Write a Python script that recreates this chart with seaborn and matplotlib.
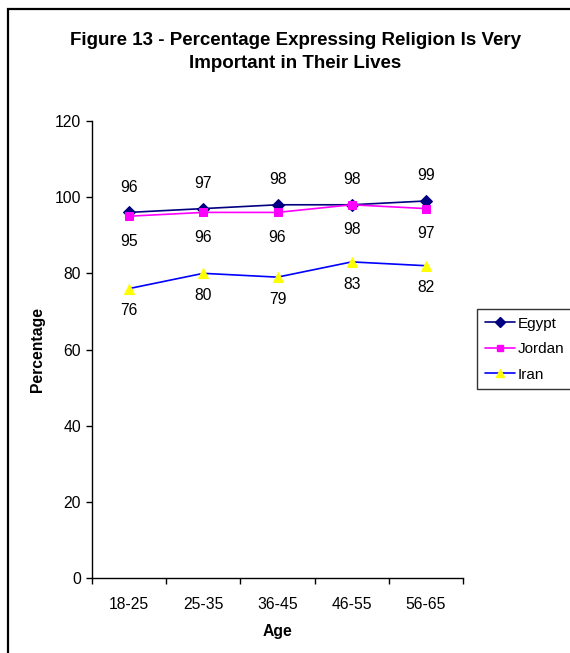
import matplotlib
matplotlib.use("Agg")
import matplotlib.pyplot as plt
from matplotlib.patches import Rectangle
from matplotlib.lines import Line2D
from matplotlib.ticker import FixedLocator
import seaborn as sns
import pandas as pd

ages = ["18-25", "25-35", "36-45", "46-55", "56-65"]
egypt = [96, 97, 98, 98, 99]
jordan = [95, 96, 96, 98, 97]
iran = [76, 80, 79, 83, 82]
y_ticks = [0, 20, 40, 60, 80, 100, 120]

sns.set_theme(style="white")
plt.rcParams["font.family"] = ["Liberation Sans", "DejaVu Sans"]
plt.rcParams.update({"text.color": "black", "axes.labelcolor": "black",
                     "xtick.color": "black", "ytick.color": "black"})

W, H = 570, 653
FS = 11.3
fig = plt.figure(figsize=(W / 100, H / 100), dpi=100)
ax = fig.add_axes([92 / W, 1 - 578 / H, 371 / W, 457 / H])

series = [
    ("Egypt", egypt, "#000080", "D", "#000080", 6, 18),
    ("Jordan", jordan, "#FF00FF", "s", "#FF00FF", 6, -18),
    ("Iran", iran, "#0000FF", "^", "#FFFF00", 7, -16),
]

handles = []
for name, vals, lc, mk, mfc, ms, off in series:
    df = pd.DataFrame({"Age": ages, "Percentage": vals})
    sns.lineplot(data=df, x="Age", y="Percentage", ax=ax, color=lc, lw=1.2,
                 marker=mk, markersize=ms, markerfacecolor=mfc,
                 markeredgecolor=mfc, sort=False)
    for i, v in enumerate(vals):
        ax.annotate(str(v), (i, v), xytext=(0, off), textcoords="offset points",
                    ha="center", va="center", fontsize=FS, color="black")
    handles.append(Line2D([], [], color=lc, lw=1.2, marker=mk, markersize=ms - 1,
                          markerfacecolor=mfc, markeredgecolor=mfc))

ax.set_xlim(-0.5, 4.5)
ax.set_ylim(0, 120)
ax.set_yticks(y_ticks)
ax.set_xticks(range(len(ages)))
ax.set_xticklabels(ages)
ax.xaxis.set_minor_locator(FixedLocator([i - 0.5 for i in range(len(ages) + 1)]))
ax.tick_params(axis="x", which="major", length=0, pad=14, labelsize=FS)
ax.tick_params(axis="x", which="minor", length=4, width=1, direction="out", bottom=True)
ax.tick_params(axis="y", which="major", length=4, width=1, direction="out", left=True,
               labelsize=FS, pad=4)

for s in ["top", "right"]:
    ax.spines[s].set_visible(False)
for s in ["left", "bottom"]:
    ax.spines[s].set_color("black")
    ax.spines[s].set_linewidth(1)

ax.set_xlabel("Age", fontsize=FS, fontweight="bold", labelpad=8)
ax.set_ylabel("Percentage", fontsize=FS, fontweight="bold", labelpad=7)

fig.text(295 / W, 1 - 52 / H,
         "Figure 13 - Percentage Expressing Religion Is Very\nImportant in Their Lives",
         ha="center", va="center", fontsize=13.5, fontweight="bold", linespacing=1.45)

leg = fig.legend(handles, ["Egypt", "Jordan", "Iran"],
                 loc="upper left", bbox_to_anchor=(477 / W, 1 - 309 / H),
                 frameon=True, fancybox=False, fontsize=11, handlelength=2.0,
                 handletextpad=0.3, borderpad=0.5, labelspacing=0.75, borderaxespad=0)
leg.get_frame().set_edgecolor("black")
leg.get_frame().set_linewidth(1)
for t in leg.get_texts():
    t.set_x(-2)

fig.patches.append(Rectangle((8 / W, -0.1), 1.2, 1 - 9 / H + 0.1, fill=False,
                             edgecolor="black", lw=1.6, transform=fig.transFigure))

fig.savefig("out.png", dpi=100, facecolor="white")
